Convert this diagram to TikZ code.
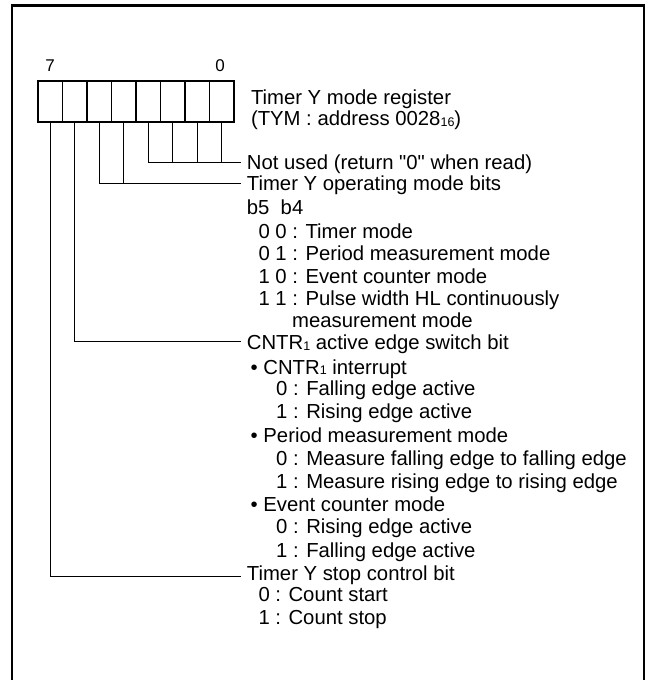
\documentclass[tikz,border=0pt]{standalone}
\usepackage{fontspec}
\setmainfont{Liberation Sans}[Ligatures=TeXOff]
\newcommand\sbs[1]{\raisebox{-0.8pt}{\fontsize{12.5}{12}\selectfont #1}}
\tikzset{
  txt/.style={anchor=base west,inner sep=0pt,font=\fontsize{20.3}{22}\selectfont},
  bitnum/.style={anchor=base,inner sep=0pt,font=\fontsize{17}{20}\selectfont},
  cell/.style={draw,line width=1.4pt,minimum width=24.5pt,minimum height=41.2pt,inner sep=0pt,anchor=north west},
  conn/.style={line width=1.3pt},
  frame/.style={line width=2.5pt}
}
\begin{document}
\begin{tikzpicture}[x=1pt,y=-1pt]
\useasboundingbox (0,0) rectangle (647,680);
\draw[frame] (12,680) -- (12,5.7) -- (644,5.7) -- (644,680);
% register cells
\foreach \b in {7,...,0}{
  \node[cell] (c\b) at ({37.3+(7-\b)*24.5},80.2) {};
}
\node[bitnum] (n7) at (50,71.5) {7};
\node[bitnum] (n0) at (220,71.5) {0};
% texts
\node[txt] (reg) at (250.8,104) {Timer Y mode register};
\node[txt] (addr) at (250.8,125.5) {(TYM : address 0028\sbs{16})};
\node[txt] (nu) at (246.7,169.8) {Not used (return "0" when read)};
\node[txt] (op) at (246.7,190.6) {Timer Y operating mode bits};
\node[txt] (b54) at (246.7,214.5) {b5\ \ b4};
\node[txt] (m00) at (258.3,238.5) {0 0 : Timer mode};
\node[txt] (m01) at (258.3,260.3) {0 1 : Period measurement mode};
\node[txt] (m10) at (258.3,283) {1 0 : Event counter mode};
\node[txt] (m11) at (258.3,305) {1 1 : Pulse width HL continuously};
\node[txt] (m11b) at (292,327) {measurement mode};
\node[txt] (cn) at (246.7,349.3) {CNTR\sbs{1} active edge switch bit};
\node[txt] (cni) at (250.5,374) {\textbullet\ CNTR\sbs{1} interrupt};
\node[txt] (cni0) at (276,395.5) {0 : Falling edge active};
\node[txt] (cni1) at (276,418.5) {1 : Rising edge active};
\node[txt] (pm) at (250.5,442) {\textbullet\ Period measurement mode};
\node[txt] (pm0) at (276,465) {0 : Measure falling edge to falling edge};
\node[txt] (pm1) at (276,488) {1 : Measure rising edge to rising edge};
\node[txt] (ec) at (250.5,511.5) {\textbullet\ Event counter mode};
\node[txt] (ec0) at (276,533) {0 : Rising edge active};
\node[txt] (ec1) at (276,557) {1 : Falling edge active};
\node[txt] (st) at (246.7,580.5) {Timer Y stop control bit};
\node[txt] (st0) at (258.3,601.5) {0 : Count start};
\node[txt] (st1) at (258.3,624) {1 : Count stop};
% connector ends
\coordinate (enu) at (241,162.8);
\coordinate (eop) at (241,183.3);
\coordinate (ecn) at (241,341.8);
\coordinate (est) at (241,576.3);
\draw[conn] (c3.south) |- (enu);
\foreach \b in {2,1,0}{ \draw[conn] (c\b.south) -- (c\b.south |- enu); }
\draw[conn] (c5.south) |- (eop);
\draw[conn] (c4.south) -- (c4.south |- eop);
\draw[conn] (c6.south) |- (ecn);
\draw[conn] (c7.south) |- (est);
\end{tikzpicture}
\end{document}
